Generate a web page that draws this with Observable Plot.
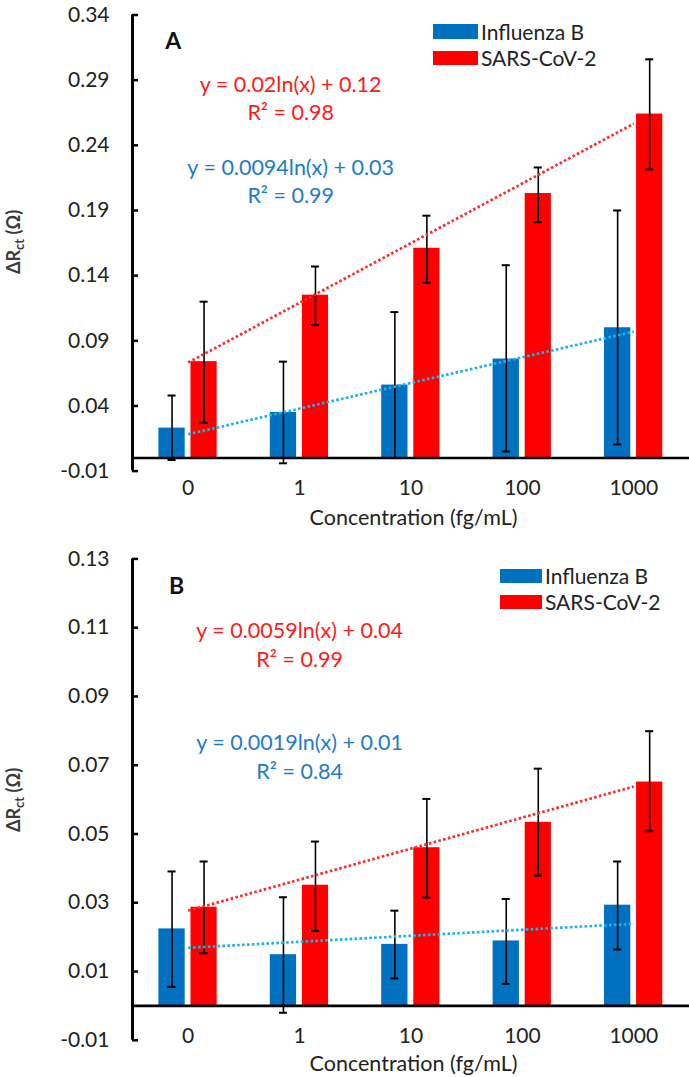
<!DOCTYPE html>
<html>
<head>
<meta charset="utf-8">
<script src="https://cdn.jsdelivr.net/npm/d3@7"></script>
<script src="https://cdn.jsdelivr.net/npm/@observablehq/plot@0.6"></script>
<style>
  body { margin: 0; background: #fff; font-family: Lato, sans-serif; }
  .panel { position: relative; width: 689px; }
  .legend { position: absolute; font-size: 21px; color: #222; }
  .legend .row { position: absolute; white-space: nowrap; display: flex; align-items: center; }
  .legend .sw { display: inline-block; margin-right: 3px; }
  .ylab { position: absolute; transform: translate(-50%, -50%) rotate(-90deg); font-size: 18px; font-weight: bold; color: #3a3a3a; white-space: nowrap; }
  .ylab sub { font-size: 13px; vertical-align: -4px; }
  .trend path { stroke-dasharray: 2.6 2.3; }
</style>
</head>
<body>
<div id="chart"></div>
<script>
// ---------- data ----------
const concentrationLabels = ["0", "1", "10", "100", "1000"];
const seriesNames = ["Influenza B", "SARS-CoV-2"];
const seriesColors = ["#0070C0", "#FF0000"];
const trendColors = ["#1AB2EC", "#FF2A2A"];
const eqColors = ["#1C7CC9", "#FF1A1A"];

// Panel A
const yTicksA = [-0.01, 0.04, 0.09, 0.14, 0.19, 0.24, 0.29, 0.34];
const fluA = [0.023, 0.035, 0.056, 0.076, 0.100];
const fluALow = [-0.0015, -0.004, 0.000, 0.005, 0.0105];
const fluAHigh = [0.048, 0.074, 0.112, 0.148, 0.190];
const covA = [0.074, 0.125, 0.161, 0.203, 0.264];
const covALow = [0.027, 0.102, 0.1345, 0.181, 0.2215];
const covAHigh = [0.120, 0.147, 0.186, 0.223, 0.306];
const trendFluA = [0.0183, 0.097];   // first and last category
const trendCovA = [0.0733, 0.2566];
const eqFluA = ["y = 0.0094ln(x) + 0.03", "R² = 0.99"];
const eqCovA = ["y = 0.02ln(x) + 0.12", "R² = 0.98"];

// Panel B
const yTicksB = [-0.01, 0.01, 0.03, 0.05, 0.07, 0.09, 0.11, 0.13];
const fluB = [0.0224, 0.0149, 0.0179, 0.0189, 0.0293];
const fluBLow = [0.0055, -0.002, 0.008, 0.0064, 0.0164];
const fluBHigh = [0.0391, 0.0316, 0.0277, 0.0311, 0.042];
const covB = [0.0287, 0.0351, 0.046, 0.0534, 0.0651];
const covBLow = [0.0153, 0.0218, 0.0315, 0.0379, 0.0508];
const covBHigh = [0.042, 0.0478, 0.0602, 0.069, 0.0799];
const trendFluB = [0.0169, 0.0239];
const trendCovB = [0.0277, 0.0638];
const eqFluB = ["y = 0.0019ln(x) + 0.01", "R² = 0.84"];
const eqCovB = ["y = 0.0059ln(x) + 0.04", "R² = 0.99"];

// ---------- drawing ----------
const barOffsets = [[-0.263, -0.027], [0.025, 0.26]]; // within a category band
const capHalf = 0.036;

function panel(cfg) {
  const bars = [];
  const errs = [];
  [cfg.flu, cfg.cov].forEach((vals, s) => {
    const lo = s === 0 ? cfg.fluLow : cfg.covLow;
    const hi = s === 0 ? cfg.fluHigh : cfg.covHigh;
    vals.forEach((v, i) => {
      const x1 = i + barOffsets[s][0], x2 = i + barOffsets[s][1];
      bars.push({x1, x2, v, s});
      errs.push({x: (x1 + x2) / 2, lo: lo[i], hi: hi[i]});
    });
  });
  const last = concentrationLabels.length - 1;
  const trends = [
    {s: 0, pts: [[0, cfg.trendFlu[0]], [last, cfg.trendFlu[1]]]},
    {s: 1, pts: [[0, cfg.trendCov[0]], [last, cfg.trendCov[1]]]}
  ];
  const yd = [cfg.yTicks[0], cfg.yTicks[cfg.yTicks.length - 1]];
  const x0 = -0.5;
  const tickLen = 6 / 111.4;
  const eqSize = 21.5;

  const marks = [
    Plot.rectY(bars, {x1: "x1", x2: "x2", y: "v", fill: d => seriesColors[d.s], inset: 0}),
    Plot.ruleX(errs, {x: "x", y1: "lo", y2: "hi", stroke: "#000", strokeWidth: 1.6}),
    Plot.ruleY(errs, {y: "hi", x1: d => d.x - capHalf, x2: d => d.x + capHalf, stroke: "#000", strokeWidth: 2}),
    Plot.ruleY(errs, {y: "lo", x1: d => d.x - capHalf, x2: d => d.x + capHalf, stroke: "#000", strokeWidth: 2}),
    ...trends.map(t => Plot.line(t.pts, {x: d => d[0], y: d => d[1], stroke: trendColors[t.s], strokeWidth: 2.7, strokeDasharray: "2.6,2.3", strokeLinecap: "butt", className: "trend"})),
    Plot.ruleY([0], {stroke: "#000", strokeWidth: 2.6}),
    Plot.ruleX([x0], {stroke: "#000", strokeWidth: 3}),
    Plot.ruleY(cfg.yTicks, {y: d => d, x1: x0, x2: x0 + tickLen, stroke: "#000", strokeWidth: 2.5}),
    Plot.axisY(cfg.yTicks, {tickSize: 0, tickPadding: 23, tickFormat: d => d.toFixed(2), fontSize: 21, label: null}),
    Plot.text(concentrationLabels, {x: (d, i) => i, y: () => 0, dy: 30.3, fontSize: 21, fill: "#222"}),
    Plot.text(["Concentration (fg/mL)"], {frameAnchor: "bottom", lineAnchor: "middle", dx: 2.5, dy: cfg.titleDy, fontSize: 21.5, fill: "#222"}),
    Plot.text([cfg.letter], {x: cfg.letterPos[0], y: cfg.letterPos[1], fontSize: 23, fontWeight: "bold", fill: "#111"}),
    Plot.text([cfg.eqCov[0]], {x: cfg.eqX, y: cfg.eqCovY[0], fontSize: eqSize, fill: eqColors[1]}),
    Plot.text([cfg.eqCov[1]], {x: cfg.eqX, y: cfg.eqCovY[1], fontSize: eqSize, fill: eqColors[1]}),
    Plot.text([cfg.eqFlu[0]], {x: cfg.eqX, y: cfg.eqFluY[0], fontSize: eqSize, fill: eqColors[0]}),
    Plot.text([cfg.eqFlu[1]], {x: cfg.eqX, y: cfg.eqFluY[1], fontSize: eqSize, fill: eqColors[0]})
  ];

  const svg = Plot.plot({
    width: 689,
    height: cfg.height,
    marginLeft: 132,
    marginRight: 0,
    marginTop: cfg.marginTop,
    marginBottom: cfg.marginBottom,
    x: {domain: [-0.5, 4.5], axis: null},
    y: {domain: yd, axis: null},
    style: {fontFamily: "Lato, sans-serif", fontSize: "20px", color: "#222", background: "#fff", overflow: "visible"},
    marks
  });

  const div = document.createElement("div");
  div.className = "panel";
  div.style.height = cfg.height + "px";
  div.appendChild(svg);

  // y-axis title with subscript
  const yl = document.createElement("div");
  yl.className = "ylab";
  yl.style.left = "14px";
  yl.style.top = cfg.yLabelY + "px";
  yl.innerHTML = "ΔR<sub>ct</sub> (Ω)";
  div.appendChild(yl);

  // legend
  const lg = document.createElement("div");
  lg.className = "legend";
  lg.style.left = cfg.legend.left + "px";
  lg.style.top = "0px";
  seriesNames.forEach((name, s) => {
    const row = document.createElement("div");
    row.className = "row";
    row.style.top = cfg.legend.tops[s] + "px";
    row.style.left = "0px";
    row.style.height = cfg.legend.h + "px";
    const sw = document.createElement("span");
    sw.className = "sw";
    sw.style.background = seriesColors[s];
    sw.style.width = cfg.legend.w + "px";
    sw.style.height = cfg.legend.h + "px";
    row.appendChild(sw);
    const tx = document.createElement("span");
    tx.textContent = name;
    row.appendChild(tx);
    lg.appendChild(row);
  });
  div.appendChild(lg);
  return div;
}

const chart = document.getElementById("chart");
chart.appendChild(panel({
  height: 537, marginTop: 14.5, marginBottom: 66.4, titleDy: 47.4,
  yTicks: yTicksA, flu: fluA, fluLow: fluALow, fluHigh: fluAHigh,
  cov: covA, covLow: covALow, covHigh: covAHigh,
  trendFlu: trendFluA, trendCov: trendCovA,
  letter: "A", letterPos: [-0.135, 0.3193],
  eqX: 0.92, eqCov: eqCovA, eqCovY: [0.286, 0.2644], eqFlu: eqFluA, eqFluY: [0.2225, 0.2007],
  yLabelY: 242,
  legend: {left: 433, tops: [24, 50.5], w: 45, h: 14.5}
}));
chart.appendChild(panel({
  height: 540, marginTop: 21.4, marginBottom: 37.2, titleDy: 24.2,
  yTicks: yTicksB, flu: fluB, fluLow: fluBLow, fluHigh: fluBHigh,
  cov: covB, covLow: covBLow, covHigh: covBHigh,
  trendFlu: trendFluB, trendCov: trendCovB,
  letter: "B", letterPos: [-0.105, 0.122],
  eqX: 1.0, eqCov: eqCovB, eqCovY: [0.1089, 0.1005], eqFlu: eqFluB, eqFluY: [0.0763, 0.0679],
  yLabelY: 262.6,
  legend: {left: 500, tops: [32, 58], w: 42, h: 13.5}
}));
</script>
</body>
</html>
